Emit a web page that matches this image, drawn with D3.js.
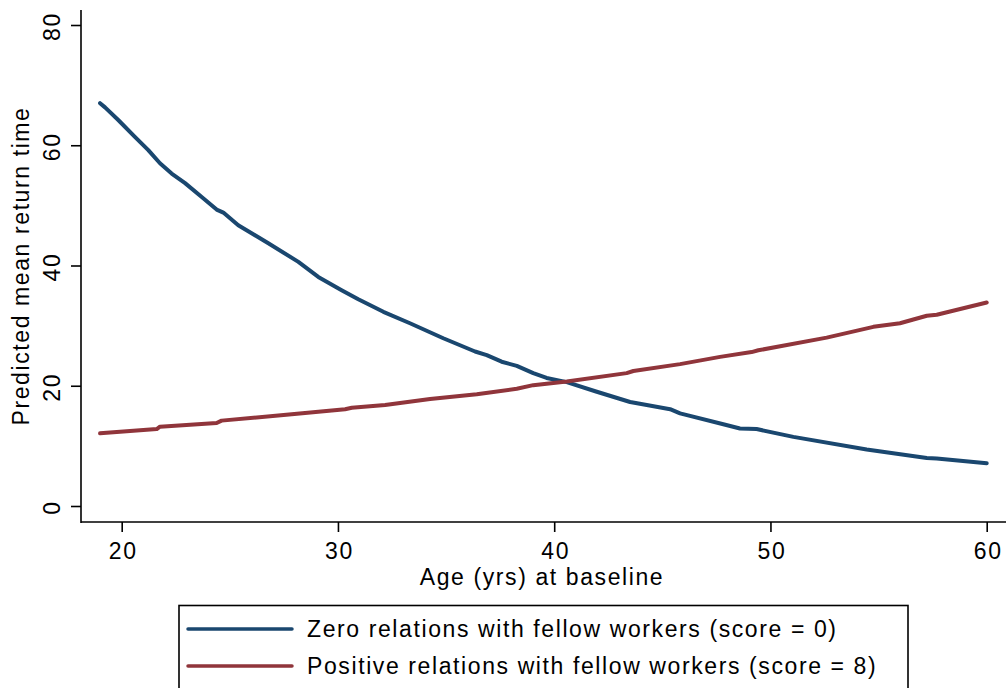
<!DOCTYPE html>
<html>
<head>
<meta charset="utf-8">
<script src="https://cdn.jsdelivr.net/npm/d3@7"></script>
<style>
  body { margin: 0; background: #fff; }
  svg { display: block; font-family: "Liberation Sans", Arial, sans-serif; letter-spacing: 1.6px; }
</style>
</head>
<body>
<div id="chart"></div>
<script>
// Age at baseline (years)
const zeroAge = [19.0, 19.23, 19.84, 20.61, 21.23, 21.77, 22.31, 22.93, 23.7, 24.39, 24.7, 25.39,
    26.78, 28.17, 29.09, 30.17, 30.94, 32.1, 33.33, 34.87, 36.34, 36.88, 37.57, 38.27, 39.03,
    39.65, 40.58, 41.97, 43.51, 44.28, 45.36, 45.82, 47.82, 48.59, 49.36, 51.06, 54.45, 57.23,
    57.69, 60.0];
// Predicted mean return time, zero relations (score = 0)
const zeroValue = [67.0, 66.3, 64.2, 61.4, 59.2, 57.0, 55.3, 53.7, 51.4, 49.3, 48.8, 46.7,
    43.7, 40.6, 38.1, 35.9, 34.4, 32.3, 30.4, 27.9, 25.7, 25.1, 24.0, 23.3, 22.1,
    21.3, 20.6, 19.0, 17.3, 16.8, 16.1, 15.4, 13.6, 12.9, 12.8, 11.5, 9.4, 8.0,
    7.9, 7.1];

const posAge = [19.0, 21.62, 21.77, 24.39, 24.62, 27.86, 30.33, 30.64, 32.18, 34.26, 36.42,
    38.27, 39.03, 40.58, 43.35, 43.66, 45.82, 47.67, 49.13, 49.44, 52.6, 54.76, 55.99,
    57.23, 57.69, 60.0];
// Predicted mean return time, positive relations (score = 8)
const posValue = [12.1, 12.8, 13.2, 13.8, 14.2, 15.25, 16.1, 16.35, 16.8, 17.8, 18.6,
    19.5, 20.1, 20.7, 22.1, 22.45, 23.6, 24.8, 25.6, 25.9, 28.0, 29.8, 30.4,
    31.65, 31.8, 33.85];

const xTicks = [20, 30, 40, 50, 60];
const yTicks = [0, 20, 40, 60, 80];
const seriesNames = ["Zero relations with fellow workers (score = 0)",
    "Positive relations with fellow workers (score = 8)"];
const colors = ["#1a476f", "#90353b"];

const width = 1007;
const height = 688;
const fontSize = 23;

const svg = d3.select("#chart")
    .append("svg")
    .attr("width", width)
    .attr("height", height);

svg.append("rect")
    .attr("width", width)
    .attr("height", height)
    .attr("fill", "#fff");

// scales
const x = d3.scaleLinear().domain([20, 60]).range([121.7, 986.7]);
const y = d3.scaleLinear().domain([0, 80]).range([506, 25]);

const axisLeftX = 81;
const axisBottomY = 522;

// y axis
const yAxis = svg.append("g")
    .attr("transform", `translate(${axisLeftX},0)`)
    .call(d3.axisLeft(y).tickValues(yTicks).tickSize(10).tickPadding(0).tickFormat(d3.format("d")));
yAxis.select(".domain").remove();
yAxis.selectAll(".tick line").attr("stroke", "#000").attr("stroke-width", 1.6);
yAxis.selectAll(".tick text")
    .attr("x", 0).attr("dy", null)
    .attr("transform", "translate(-21,1) rotate(-90)")
    .attr("text-anchor", "middle")
    .attr("font-size", fontSize)
    .attr("fill", "#000");
svg.append("line")
    .attr("x1", axisLeftX).attr("x2", axisLeftX)
    .attr("y1", 10).attr("y2", axisBottomY + 1)
    .attr("stroke", "#000").attr("stroke-width", 1.6);

// x axis
const xAxis = svg.append("g")
    .attr("transform", `translate(0,${axisBottomY})`)
    .call(d3.axisBottom(x).tickValues(xTicks).tickSize(10).tickPadding(0).tickFormat(d3.format("d")));
xAxis.select(".domain").remove();
xAxis.selectAll(".tick line").attr("stroke", "#000").attr("stroke-width", 1.6);
xAxis.selectAll(".tick text")
    .attr("x", 1).attr("y", 37).attr("dy", null)
    .attr("font-size", fontSize)
    .attr("fill", "#000");
svg.append("line")
    .attr("x1", axisLeftX).attr("x2", 1006)
    .attr("y1", axisBottomY).attr("y2", axisBottomY)
    .attr("stroke", "#000").attr("stroke-width", 1.6);

// axis titles
svg.append("text")
    .attr("x", 542).attr("y", 585)
    .attr("text-anchor", "middle")
    .attr("font-size", fontSize)
    .text("Age (yrs) at baseline");

svg.append("text")
    .attr("transform", "translate(29,266) rotate(-90)")
    .attr("text-anchor", "middle")
    .attr("font-size", fontSize)
    .text("Predicted mean return time");

// lines
const line = d3.line()
    .x(d => x(d[0]))
    .y(d => y(d[1]));

const series = [
    d3.zip(zeroAge, zeroValue),
    d3.zip(posAge, posValue)
];

series.forEach((s, i) => {
    svg.append("path")
        .datum(s)
        .attr("d", line)
        .attr("fill", "none")
        .attr("stroke", colors[i])
        .attr("stroke-width", 4)
        .attr("stroke-linecap", "round")
        .attr("stroke-linejoin", "round");
});

// legend
svg.append("rect")
    .attr("x", 179).attr("y", 605.5)
    .attr("width", 729).attr("height", 100)
    .attr("fill", "#fff")
    .attr("stroke", "#000")
    .attr("stroke-width", 1.6);

const legendY = [629, 666];
seriesNames.forEach((name, i) => {
    svg.append("line")
        .attr("x1", 188).attr("x2", 292)
        .attr("y1", legendY[i]).attr("y2", legendY[i])
        .attr("stroke", colors[i])
        .attr("stroke-width", 3.5)
        .attr("stroke-linecap", "round");
    svg.append("text")
        .attr("x", 307).attr("y", legendY[i] + 8)
        .attr("font-size", fontSize)
        .text(name);
});
</script>
</body>
</html>
